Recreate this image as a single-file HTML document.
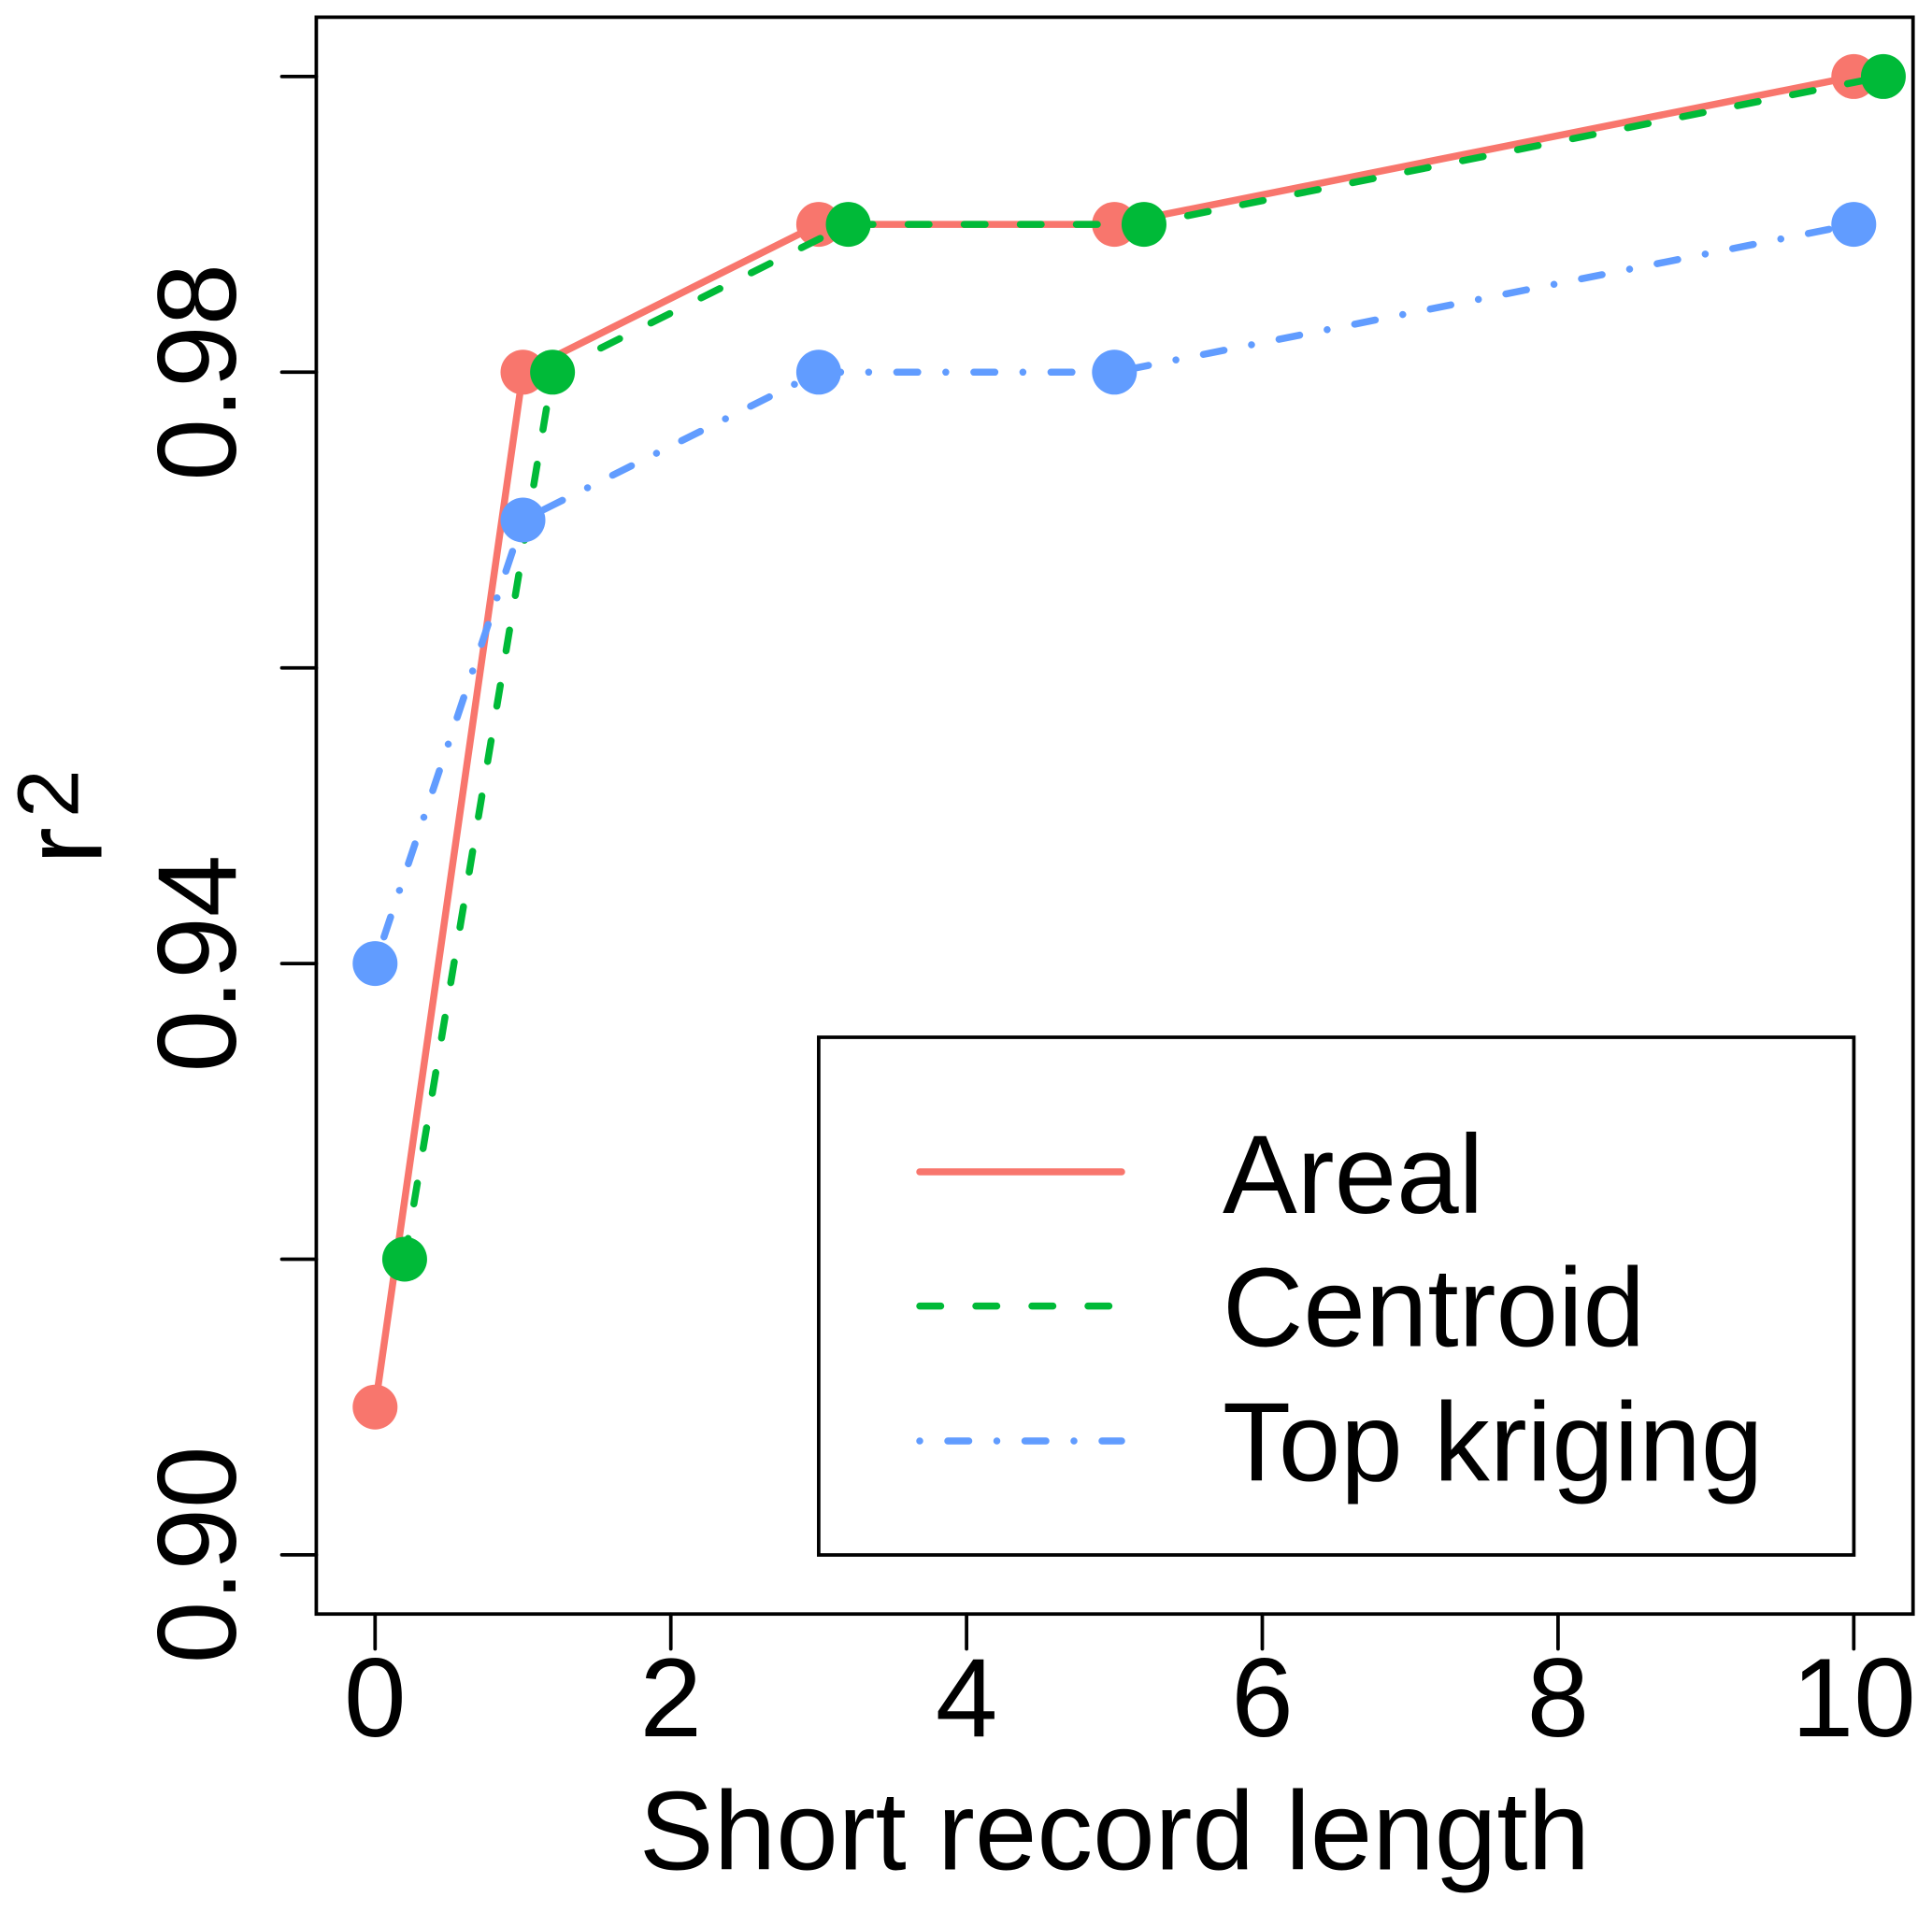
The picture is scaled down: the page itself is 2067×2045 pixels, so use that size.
<!DOCTYPE html>
<html lang="en">
<head>
<meta charset="utf-8">
<title>r2 vs short record length</title>
<style>
html,body{margin:0;padding:0;background:#fff;}
svg{display:block;}
text{font-family:"Liberation Sans",Arial,sans-serif;fill:#000;}
</style>
</head>
<body>
<svg id="chart" xmlns="http://www.w3.org/2000/svg" width="2067" height="2045" viewBox="0 0 2067 2045">
  <rect x="0" y="0" width="2067" height="2045" fill="#fff"/>
  <g id="axes"></g>
  <g id="marks"></g>
  <g id="legend">
    <rect x="875.9" y="1110" width="1107.5" height="554" fill="none" stroke="#000" stroke-width="3.75"/>
  </g>
  <rect x="338.4" y="18.4" width="1708.3" height="1708.8" fill="none" stroke="#000" stroke-width="3.75"/>
  <text x="1192.5" y="2000.5" font-size="119.6" text-anchor="middle">Short record length</text>
  <text transform="translate(108.3,925) rotate(-90)" font-size="119.6">r<tspan font-size="93" x="50" y="-25">2</tspan></text>
</svg>
<script>
const xTickValues = [0, 2, 4, 6, 8, 10];
const xTickLabels = ['0', '2', '4', '6', '8', '10'];
const yTickValues = [0.90, 0.92, 0.94, 0.96, 0.98, 1.00];
const yTickLabels = ['0.90', '', '0.94', '', '0.98', ''];

const seriesNames = ['Areal', 'Centroid', 'Top kriging'];
const seriesColors = ['#F8766D', '#00BA38', '#619CFF'];
const seriesDashes = ['none', '22.5 37.5', '0.01 30 22.5 29.99'];

const arealX = [0, 1, 3, 5, 10];
const arealY = [0.91, 0.98, 0.99, 0.99, 1.00];
const centroidX = [0.2, 1.2, 3.2, 5.2, 10.2];
const centroidY = [0.92, 0.98, 0.99, 0.99, 1.00];
const krigingX = [0, 1, 3, 5, 10];
const krigingY = [0.94, 0.97, 0.98, 0.98, 0.99];

const NS = 'http://www.w3.org/2000/svg';
function xScale(v) { return 401.3 + (v - 0) * 158.2; }
function yScale(v) { return 1663.9 - (v - 0.90) * 15820; }
function make(tag, attrs, parent) {
  const node = document.createElementNS(NS, tag);
  Object.keys(attrs).forEach(function (k) { node.setAttribute(k, attrs[k]); });
  parent.appendChild(node);
  return node;
}

const axes = document.getElementById('axes');
const marks = document.getElementById('marks');
const legend = document.getElementById('legend');

xTickValues.forEach(function (v, i) {
  const x = xScale(v);
  const tick = make('line', { x1: x, x2: x, y1: 1727.2, y2: 1764.5, stroke: '#000', 'stroke-width': 3.75, 'stroke-linecap': 'round' }, axes);
  
  
  const label = make('text', { x: x, y: 1858, 'font-size': 119.6, 'text-anchor': 'middle' }, axes);
  label.textContent = xTickLabels[i];
  
  
});

yTickValues.forEach(function (v, i) {
  const y = yScale(v);
  const tick = make('line', { x1: 301.5, x2: 338.4, y1: y, y2: y, stroke: '#000', 'stroke-width': 3.75, 'stroke-linecap': 'round' }, axes);
  
  
  if (yTickLabels[i]) {
    const label = make('text', { transform: 'translate(252,' + y + ') rotate(-90)', 'font-size': 119.6, 'text-anchor': 'middle' }, axes);
    label.textContent = yTickLabels[i];
    
    
  }
});

function drawSeries(key, index, xs, ys) {
  const pts = xs.map(function (x, i) { return xScale(x) + ',' + yScale(ys[i]); }).join(' ');
  const path = make('polyline', { points: pts, fill: 'none', stroke: seriesColors[index], 'stroke-width': 7.5, 'stroke-linecap': 'round', 'stroke-linejoin': 'round', 'stroke-dasharray': seriesDashes[index] }, marks);
  
  
  xs.forEach(function (x, i) {
    const dot = make('circle', { cx: xScale(x), cy: yScale(ys[i]), r: 24, fill: seriesColors[index] }, marks);
    
    
  });
}
drawSeries('areal', 0, arealX, arealY);
drawSeries('centroid', 1, centroidX, centroidY);
drawSeries('top-kriging', 2, krigingX, krigingY);

const legendLineY = [1254, 1397.6, 1542];
const legendBaseY = [1297.8, 1440.5, 1584.4];
seriesNames.forEach(function (name, i) {
  const swatch = make('line', { x1: 984, x2: 1200, y1: legendLineY[i], y2: legendLineY[i], stroke: seriesColors[i], 'stroke-width': 7.5, 'stroke-linecap': 'round', 'stroke-dasharray': seriesDashes[i] }, legend);
  
  
  const label = make('text', { x: 1308, y: legendBaseY[i], 'font-size': 119.6 }, legend);
  label.textContent = name;
  
  
});
</script>
</body>
</html>
